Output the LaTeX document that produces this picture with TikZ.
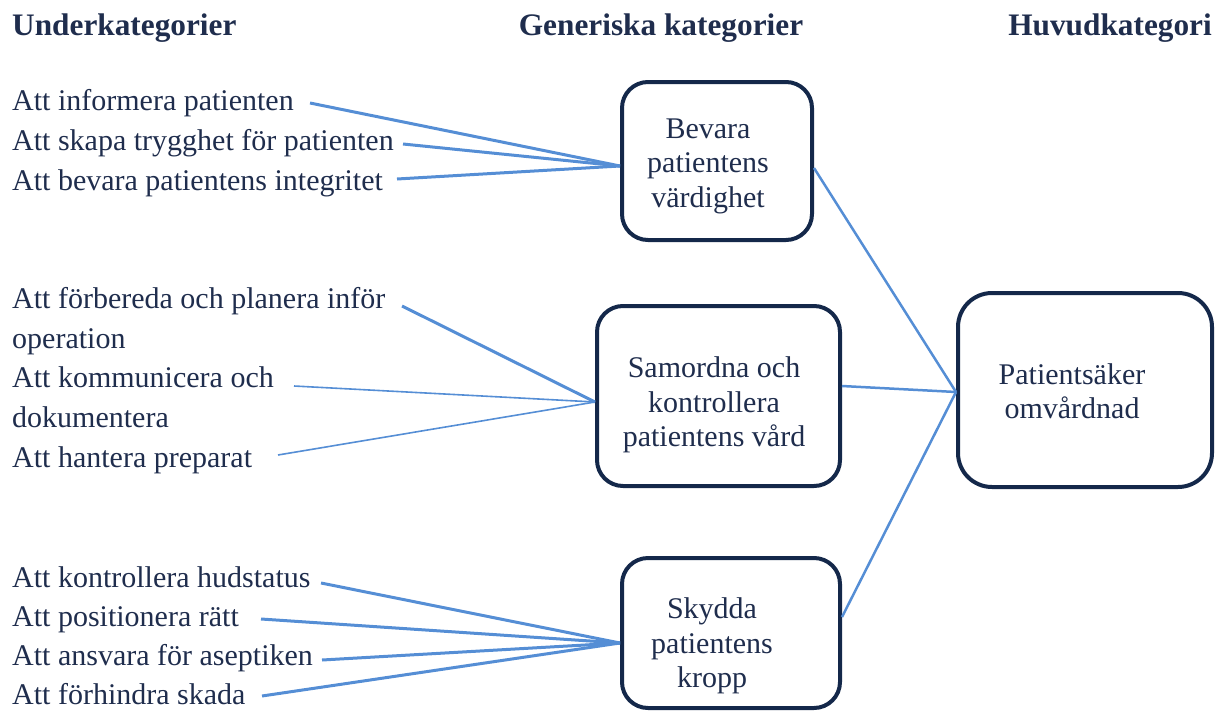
\documentclass[tikz,border=0pt]{standalone}
\usepackage{fontspec}
\setmainfont{Liberation Serif}
\definecolor{txt}{HTML}{1F2D4D}
\definecolor{edge}{HTML}{558ED5}
\definecolor{frame}{HTML}{14284A}
\begin{document}
\begin{tikzpicture}[x=1pt,y=-1pt,
  head/.style={anchor=base,font=\fontsize{31.3}{36}\selectfont\bfseries,text=txt,inner sep=0},
  item/.style={anchor=base west,font=\fontsize{30}{34}\selectfont,text=txt,inner sep=0},
  boxtext/.style={align=center,font=\fontsize{30}{34.5}\selectfont,text=txt,inner sep=0},
  catbox/.style={draw=frame,line width=4pt,fill=white,rounded corners=26pt,inner sep=0},
  link/.style={draw=edge,line width=3pt},
  thin/.style={draw=edge,line width=1.6pt},
  right/.style={draw=edge,line width=2.5pt}]
\useasboundingbox (0,0) rectangle (1220,712);
% headers
\node[head,anchor=base west] (h1) at (12,35) {Underkategorier};
\node[head] (h2) at (661,35) {Generiska kategorier};
\node[head,anchor=base east] (h3) at (1212,35) {Huvudkategori};
% boxes
\node[catbox,minimum width=190pt,minimum height=158pt] (b1) at (717,161) {};
\node[catbox,minimum width=243pt,minimum height=180pt] (b2) at (718.5,396) {};
\node[catbox,minimum width=218pt,minimum height=150pt] (b3) at (731,633) {};
\node[catbox,minimum width=254pt,minimum height=194pt,rounded corners=34pt] (b4) at (1085,390) {};
\node[boxtext] (bt1) at (708,166) {Bevara\\patientens\\värdighet};
\node[boxtext] (bt2) at (714,405) {Samordna och\\kontrollera\\patientens vård};
\node[boxtext] (bt3) at (712,646) {Skydda\\patientens\\kropp};
\node[boxtext] (bt4) at (1072,391) {Patientsäker\\omvårdnad};
% items
\node[item] (i1) at (12,110) {Att informera patienten};
\node[item] (i2) at (12,150) {Att skapa trygghet för patienten};
\node[item] (i3) at (12,190) {Att bevara patientens integritet};
\node[item] (i4) at (12,308) {Att förbereda och planera inför};
\node[item] (i4b) at (12,348) {operation};
\node[item] (i5) at (12,387) {Att kommunicera och};
\node[item] (i5b) at (12,427) {dokumentera};
\node[item] (i6) at (12,467) {Att hantera preparat};
\node[item] (i7) at (12,587) {Att kontrollera hudstatus};
\node[item] (i8) at (12,626) {Att positionera rätt};
\node[item] (i9) at (12,665) {Att ansvara för aseptiken};
\node[item] (i10) at (12,704) {Att förhindra skada};
% line start points
\coordinate (s1) at (310,103);
\coordinate (s2) at (403,144);
\coordinate (s3) at (397,179);
\coordinate (s4) at (402,306);
\coordinate (s5) at (294,386);
\coordinate (s6) at (278,455);
\coordinate (s7) at (321,583);
\coordinate (s8) at (261,619);
\coordinate (s9) at (322,660);
\coordinate (s10) at (262,696);
% connectors
\draw[link] (s1) -- ([yshift=-5pt]b1.west);
\draw[link] (s2) -- ([yshift=-5pt]b1.west);
\draw[link] (s3) -- ([yshift=-5pt]b1.west);
\draw[link] (s4) -- ([yshift=-6pt]b2.west);
\draw[thin] (s5) -- ([yshift=-6pt]b2.west);
\draw[thin] (s6) -- ([yshift=-6pt]b2.west);
\draw[link] (s7) -- ([yshift=-10pt]b3.west);
\draw[link] (s8) -- ([yshift=-10pt]b3.west);
\draw[link] (s9) -- ([yshift=-10pt]b3.west);
\draw[link] (s10) -- ([yshift=-10pt]b3.west);
\draw[right] ([yshift=-7pt]b1.east) -- ([yshift=-2pt]b4.west);
\draw[right] ([yshift=10pt]b2.east) -- ([yshift=-2pt]b4.west);
\draw[right] ([yshift=16pt]b3.east) -- ([yshift=-2pt]b4.west);
\end{tikzpicture}
\end{document}
